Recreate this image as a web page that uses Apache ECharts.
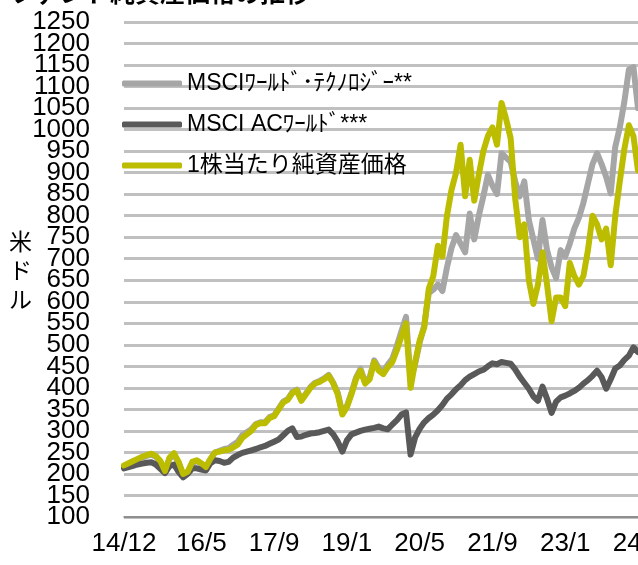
<!DOCTYPE html>
<html>
<head>
<meta charset="utf-8">
<script src="https://cdn.jsdelivr.net/npm/echarts@6/dist/echarts.min.js"></script>
<style>
  html, body { margin: 0; padding: 0; background: #fff; overflow: hidden; }
  #chart { width: 638px; height: 565px; }
</style>
</head>
<body>
<div id="chart"></div>
<script>
// monthly points, 14/12 .. 24/5
const startYear = 2014, startMonth = 12, pointCount = 114;
const tickLabels = ["14/12", "16/5", "17/9", "19/1", "20/5", "21/9", "23/1", "24/5"];
const yTicks = { min: 100, max: 1250, step: 50 };

const seriesNames = ["MSCIﾜｰﾙﾄﾞ･ﾃｸﾉﾛｼﾞｰ**", "MSCI ACﾜｰﾙﾄﾞ***", "1株当たり純資産価格"];

const techWorld = [
  218, 223, 228, 233, 238, 242, 245, 240, 228, 205, 235, 245, 226, 198, 203, 225, 230, 223, 215, 234,
  250, 254, 258, 260, 268, 275, 290, 297, 304, 316, 320, 320, 332, 336, 352, 368, 374, 390, 396, 372,
  387, 402, 412, 416, 422, 430, 412, 388, 342, 358, 388, 424, 444, 414, 424, 464, 446, 438, 454, 468,
  498, 532, 565, 420, 455, 505, 545, 620, 628, 640, 625, 680, 725, 755, 735, 715, 805, 745, 800, 845,
  895, 870, 850, 945, 935, 925, 880, 845, 880, 790, 745, 700, 790, 720, 680, 655, 720, 705, 735, 770,
  795, 830, 875, 920, 945, 920, 890, 852, 960, 1005, 1065, 1140, 1145, 1050
];

const acWorld = [
  213, 216, 219, 222, 224, 226, 227, 222, 212, 202, 218, 222, 205, 192, 200, 213, 213, 210, 208, 225,
  232, 230, 226, 228, 238, 244, 249, 252, 255, 258, 262, 265, 270, 275, 280, 290, 300, 306, 286, 287,
  291, 294, 295, 297, 300, 303, 292, 275, 252, 278, 292, 296, 300, 303, 305, 307, 310, 306, 304, 315,
  325, 338, 343, 245, 285, 305, 320, 330, 338, 348, 360, 375, 385, 397, 406, 418, 426, 432, 438, 442,
  450, 457, 455, 460, 458, 456, 443, 426, 412, 398, 380, 370, 403, 375, 342, 368, 378, 382, 387, 393,
  400, 410, 418, 428, 440, 425, 398, 420, 445, 452, 465, 475, 494, 483
];

const navPerShare = [
  220, 225, 230, 235, 240, 244, 247, 242, 230, 207, 238, 248, 228, 200, 205, 228, 232, 225, 216, 235,
  250, 252, 255, 256, 262, 268, 284, 292, 300, 314, 318, 318, 330, 334, 350, 366, 372, 388, 394, 370,
  385, 400, 410, 414, 420, 428, 410, 385, 338, 355, 385, 420, 440, 410, 420, 460, 440, 432, 448, 460,
  488, 520, 550, 400, 460, 510, 540, 630, 660, 730, 705, 800, 860, 900, 965, 845, 930, 835, 895, 950,
  985, 1005, 965, 1062, 1025, 980, 840, 750, 780, 650, 595, 640, 715, 640, 555, 610, 610, 590, 690, 660,
  640, 660, 720, 800, 780, 745, 770, 685, 800, 880, 955, 1010, 985, 905
];

const colors = ["#a6a6a6", "#595959", "#bcbc00"];

const months = [];
for (let i = 0; i < pointCount; i++) {
  const t = (startMonth - 1) + i;
  const y = startYear + Math.floor(t / 12);
  const m = (t % 12) + 1;
  months.push(String(y).slice(2) + "/" + m);
}

const fontFamily = "'Liberation Sans', 'Noto Sans CJK JP', sans-serif";
const chart = echarts.init(document.getElementById("chart"));

const seriesData = [techWorld, acWorld, navPerShare];

const yLabelStyle = {
  fontSize: 26,
  color: "#000",
  margin: 34,
  hideOverlap: false,
  fontFamily: fontFamily
};

chart.setOption({
  animation: false,
  color: colors,
  textStyle: { fontFamily: fontFamily },
  grid: { left: 124, right: 0, top: 22, bottom: 48, outerBoundsMode: "none" },
  graphic: [
    {
      type: "text",
      left: 10,
      top: -17,
      style: { text: "ファンド純資産価格の推移", font: "bold 25px " + fontFamily, fill: "#000" }
    },
    {
      type: "text",
      left: 9,
      top: 229,
      style: { text: "米\nド\nル", font: "23px " + fontFamily, lineHeight: 29, fill: "#000" }
    }
  ],
  legend: {
    orient: "vertical",
    left: 122,
    top: 72,
    padding: 0,
    icon: "roundRect",
    itemWidth: 60,
    itemHeight: 6,
    itemGap: 18,
    itemTextGap: 5,
    textStyle: { fontSize: 23, color: "#000", fontFamily: fontFamily },
    data: seriesNames
  },
  xAxis: {
    type: "category",
    boundaryGap: false,
    data: months,
    axisLine: { lineStyle: { color: "#7f7f7f", width: 1.5 } },
    axisTick: { show: false },
    axisLabel: {
      interval: (idx, val) => tickLabels.includes(val),
      fontSize: 26,
      color: "#000",
      margin: 14,
      hideOverlap: false,
      showMaxLabel: true,
      fontFamily: fontFamily
    },
    splitLine: { show: false }
  },
  yAxis: [
    {
      type: "value",
      min: yTicks.min,
      max: yTicks.max,
      interval: yTicks.step,
      axisLine: { show: false },
      axisTick: { show: false },
      axisLabel: Object.assign({}, yLabelStyle, {
        showMinLabel: true,
        showMaxLabel: true,
        formatter: (v) => String(v)
      }),
      splitLine: { lineStyle: { color: "#c0c0c0", width: 3 } }
    },
    {
      // second copy of the scale: draws the labels next to min/max that the first one drops
      type: "value",
      position: "left",
      min: yTicks.min,
      max: yTicks.max,
      interval: yTicks.step,
      axisLine: { show: false },
      axisTick: { show: false },
      splitLine: { show: false },
      axisLabel: Object.assign({}, yLabelStyle, {
        showMinLabel: false,
        showMaxLabel: false,
        formatter: (v) => (v === yTicks.min + yTicks.step || v === yTicks.max - yTicks.step) ? String(v) : ""
      })
    }
  ],
  series: seriesNames.map((name, k) => ({
    name: name,
    type: "line",
    data: seriesData[k],
    symbol: "none",
    showSymbol: false,
    lineStyle: { width: 6, color: colors[k], cap: "round", join: "round" },
    itemStyle: { color: colors[k] }
  }))
});
</script>
</body>
</html>
